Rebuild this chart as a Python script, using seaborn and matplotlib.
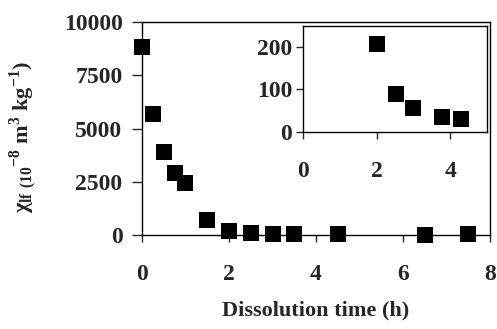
import matplotlib
matplotlib.use("Agg")
import matplotlib.pyplot as plt
import seaborn as sns
import pandas as pd

# ==========================
# DATA
# ==========================
time_h = [0, 0.25, 0.5, 0.75, 1.0, 1.5, 2, 2.5, 3, 3.5, 4.5, 6.5, 7.5]
chi_lf = [8850, 5700, 3900, 2920, 2420, 700, 210, 90, 57, 40, 30, 10, 30]

inset_time = [2.0, 2.52, 2.98, 3.78, 4.29]
inset_chi = [207, 89, 57, 35, 30]

x_ticks = [0, 2, 4, 6, 8]
y_ticks = [0, 2500, 5000, 7500, 10000]
inset_x_ticks = [0, 2, 4]
inset_y_ticks = [0, 100, 200]

df = pd.DataFrame({"time": time_h, "chi": chi_lf})
df_in = pd.DataFrame({"time": inset_time, "chi": inset_chi})

# ==========================
# STYLE
# ==========================
sns.set_style("ticks")
plt.rcParams["font.family"] = ["Liberation Serif", "DejaVu Serif"]
plt.rcParams["font.weight"] = "bold"
plt.rcParams["mathtext.fontset"] = "custom"
plt.rcParams["mathtext.rm"] = "Liberation Serif"
plt.rcParams["mathtext.bf"] = "Liberation Serif:bold"

fig = plt.figure(figsize=(4.97, 3.29), dpi=100)
ax = fig.add_axes([0.2857, 0.2857, 0.986 - 0.2857, 0.933 - 0.2857])

sns.scatterplot(data=df, x="time", y="chi", ax=ax, marker="s", s=120,
                color="black", edgecolor="black", linewidth=0, clip_on=False, zorder=5)
ax.set_xlim(0, 8)
ax.set_ylim(0, 10000)
ax.set_xticks(x_ticks)
ax.set_yticks(y_ticks)
ax.tick_params(axis="x", direction="out", length=5, width=1, pad=16, labelsize=17)
ax.tick_params(axis="y", direction="out", length=7, width=1, pad=7, labelsize=17)
for lab in ax.get_xticklabels() + ax.get_yticklabels():
    lab.set_fontweight("bold")
for sp in ax.spines.values():
    sp.set_visible(True)
    sp.set_linewidth(1)
    sp.set_color("black")

ax.set_xlabel("Dissolution time (h)", fontsize=16, fontweight="bold", labelpad=11)
ax.set_ylabel(r"χ$_{\mathbf{lf\ (10}}$$^{\mathbf{-8}}$ m$^{\mathbf{3}}$ kg$^{\mathbf{-1}}$)",
              fontsize=16, fontweight="bold")
ax.yaxis.set_label_coords(-0.295, 0.46)

# ==========================
# INSET
# ==========================
ax_in = fig.add_axes([0.610, 0.5997, 0.980 - 0.610, 0.921 - 0.5997])
sns.scatterplot(data=df_in, x="time", y="chi", ax=ax_in, marker="s", s=120,
                color="black", edgecolor="black", linewidth=0, clip_on=False, zorder=5)
ax_in.set_xlim(0, 5)
ax_in.set_ylim(0, 250)
ax_in.set_xticks(inset_x_ticks)
ax_in.set_yticks(inset_y_ticks)
ax_in.tick_params(axis="x", direction="out", length=5, width=1, pad=16, labelsize=17)
ax_in.tick_params(axis="y", direction="out", length=5, width=1, pad=3, labelsize=17)
for lab in ax_in.get_xticklabels() + ax_in.get_yticklabels():
    lab.set_fontweight("bold")
ax_in.set_xlabel("")
ax_in.set_ylabel("")
for sp in ax_in.spines.values():
    sp.set_visible(True)
    sp.set_linewidth(1)
    sp.set_color("black")

fig.savefig("out.png", dpi=100)
print("saved out.png")
